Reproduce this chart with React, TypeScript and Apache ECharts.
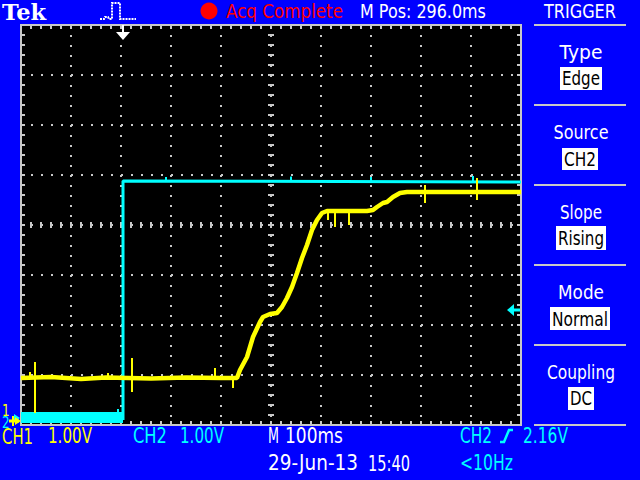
import React, { useEffect, useRef } from 'react';
import * as echarts from 'echarts';

// ---- data (time in ms from left screen edge, level in screen divisions from centre) ----
const screenMs = [0, 1000];
const screenDivs = [-4, 4];

const ch1Times = [0, 60, 120, 170, 260, 330, 400, 432, 438, 452, 464, 478, 484, 498, 512, 522, 532, 542, 552, 562, 572, 582, 592, 602, 612, 650, 692, 704, 712, 724, 732, 744, 758, 772, 850, 1000];
const ch1Levels = [-3.06, -3.04, -3.08, -3.05, -3.07, -3.05, -3.06, -3.06, -2.9, -2.64, -2.24, -1.94, -1.84, -1.78, -1.76, -1.64, -1.46, -1.24, -0.96, -0.66, -0.4, -0.1, 0.1, 0.24, 0.28, 0.28, 0.28, 0.3, 0.36, 0.44, 0.46, 0.56, 0.64, 0.66, 0.66, 0.66];

const ch1SpikeTimes = [18, 28, 174, 222, 388, 424, 614, 628, 656, 808, 912];
const ch1SpikeTops = [-2.94, -2.74, -2.96, -2.66, -2.86, -3.06, 0.28, 0.28, 0.28, 0.8, 0.94];
const ch1SpikeBottoms = [-3.04, -3.76, -3.06, -3.34, -3.06, -3.26, 0.1, -0.04, 0.0, 0.44, 0.5];

const ch2LowTimes = [0, 204];
const ch2LowLevels = [-3.85, -3.85];
const ch2Times = [204, 204, 1000];
const ch2Levels = [-3.9, 0.88, 0.86];

const ch2SpikeTimes = [194, 290, 540, 700, 904];
const ch2SpikeTops = [-3.68, 0.96, 0.97, 0.96, 0.98];
const ch2SpikeBottoms = [-3.8, 0.86, 0.86, 0.86, 0.84];

const triggerMs = 204;
const triggerLevelV = 2.16;
const ch1GroundDiv = -3.92;
const ch2GroundDiv = -3.86;

const triggerLabels = ['Type', 'Source', 'Slope', 'Mode', 'Coupling'];
const triggerValues = ['Edge', 'CH2', 'Rising', 'Normal', 'DC'];

// ---- styles ----
const BLUE = '#0000ff';
const GRAY = '#c8c8c8';
const YELLOW = '#ffff00';
const CYAN = '#00ffff';
const RED = '#ff0000';
const WHITE = '#ffffff';
const FONT = 'DejaVu Sans';

const measureCtx = typeof document !== 'undefined' ? document.createElement('canvas').getContext('2d') : null;

function fitText(text: string, x: number, cy: number, width: number, color: string, opts: any = {}) {
  const size = opts.size ?? 20;
  const family = opts.family ?? FONT;
  const weight = opts.weight ?? 'normal';
  const align = opts.align ?? 'left';
  const font = `${weight} ${size}px "${family}"`;
  let sx = 0.8;
  if (measureCtx) {
    measureCtx.font = font;
    const w = measureCtx.measureText(text).width;
    if (w > 0) sx = width / w;
  }
  return {
    type: 'text',
    x,
    y: cy,
    scaleX: sx,
    z: 10,
    style: { text, font, fill: color, textAlign: align, textVerticalAlign: 'middle', align, verticalAlign: 'middle' },
  };
}

function tickAxis(dim: 'x' | 'y', position: string, inside: boolean, len: number, offset = 0) {
  const isX = dim === 'x';
  return {
    type: 'value',
    gridIndex: 0,
    min: isX ? screenMs[0] : screenDivs[0],
    max: isX ? screenMs[1] : screenDivs[1],
    interval: isX ? 20 : 0.2,
    position,
    offset,
    axisLine: { show: false, onZero: false },
    axisTick: { show: true, inside, length: len, lineStyle: { color: GRAY, width: 2 } },
    axisLabel: { show: false },
    splitLine: { show: false },
  };
}

function gridAxis(dim: 'x' | 'y') {
  const isX = dim === 'x';
  return {
    type: 'value',
    gridIndex: 0,
    min: isX ? screenMs[0] : screenDivs[0],
    max: isX ? screenMs[1] : screenDivs[1],
    interval: isX ? 100 : 1,
    position: isX ? 'bottom' : 'left',
    axisLine: { show: false, onZero: false },
    axisTick: { show: false },
    axisLabel: { show: false },
    splitLine: { show: true, lineStyle: { color: GRAY, width: 2, type: [2, 8] } },
  };
}

function spikeSeries(times: number[], tops: number[], bottoms: number[], color: string) {
  return {
    type: 'custom',
    clip: true,
    z: 5,
    data: times.map((t, i) => [t, tops[i], bottoms[i]]),
    renderItem: (_p: any, api: any) => {
      const a = api.coord([api.value(0), api.value(1)]);
      const b = api.coord([api.value(0), api.value(2)]);
      return { type: 'line', shape: { x1: a[0], y1: a[1], x2: b[0], y2: b[1] }, style: { stroke: color, lineWidth: 2 } };
    },
  };
}

export default function App() {
  const ref = useRef<HTMLDivElement>(null);
  useEffect(() => {
    if (!ref.current) return;
    const chart = echarts.init(ref.current, null, { renderer: 'svg' });

    const graphics: any[] = [];
    // header
    graphics.push(fitText('Tek', 2, 12, 44, WHITE, { family: 'DejaVu Serif', weight: 'bold', size: 22 }));
    graphics.push({
      type: 'polyline', z: 10,
      shape: { points: [[100, 19], [104, 19], [105, 17], [108, 17], [109, 19], [112, 19], [112, 3], [120, 3], [120, 19], [136, 19]] },
      style: { stroke: WHITE, lineWidth: 2, fill: 'none', lineDash: [2, 1] },
    });
    graphics.push({ type: 'circle', z: 10, shape: { cx: 209, cy: 11, r: 8.5 }, style: { fill: RED } });
    graphics.push(fitText('Acq Complete', 226, 11, 117, RED));
    graphics.push(fitText('M Pos: 296.0ms', 360, 11, 126, WHITE));
    graphics.push(fitText('TRIGGER', 544, 11, 72, WHITE));

    // trigger panel
    const sepYs = [25, 105, 185, 265, 345, 425];
    sepYs.forEach((y) => graphics.push({ type: 'line', z: 10, shape: { x1: 534, y1: y, x2: 626, y2: y }, style: { stroke: GRAY, lineWidth: 2 } }));
    const labelWidths = [43, 55, 42, 46, 68];
    const boxes = [
      [560, 67, 42, 23],
      [562, 148, 36, 22],
      [556, 226, 50, 24],
      [550, 307, 60, 23],
      [568, 387, 26, 23],
    ];
    triggerLabels.forEach((lab, i) => {
      graphics.push(fitText(lab, 581, 52 + 80 * i, labelWidths[i], WHITE, { align: 'center' }));
      const [bx, by, bw, bh] = boxes[i];
      graphics.push({ type: 'rect', z: 10, shape: { x: bx, y: by, width: bw, height: bh }, style: { fill: WHITE } });
      graphics.push(fitText(triggerValues[i], bx + bw / 2, by + bh / 2, bw - 4, '#000000', { align: 'center' }));
    });

    // footer
    graphics.push(fitText('CH1', 2, 436, 31, YELLOW, { size: 21 }));
    graphics.push(fitText('1.00V', 48, 436, 44, YELLOW, { size: 21 }));
    graphics.push(fitText('CH2', 133, 436, 34, CYAN, { size: 21 }));
    graphics.push(fitText('1.00V', 180, 436, 44, CYAN, { size: 21 }));
    graphics.push(fitText('M', 268, 436, 11, WHITE, { size: 21 }));
    graphics.push(fitText('100ms', 285, 436, 58, WHITE, { size: 21 }));
    graphics.push(fitText('CH2', 460, 436, 32, CYAN, { size: 21 }));
    graphics.push({
      type: 'polyline', z: 10,
      shape: { points: [[500, 442], [504, 442], [509, 430], [513, 430]] },
      style: { stroke: CYAN, lineWidth: 2.5, fill: 'none' },
    });
    graphics.push(fitText('2.16V', 523, 436, 45, CYAN, { size: 21 }));
    graphics.push(fitText('29-Jun-13', 268, 463, 90, WHITE, { size: 21 }));
    graphics.push(fitText('15:40', 368, 463, 42, WHITE, { size: 21 }));
    graphics.push(fitText('<10Hz', 460, 463, 53, CYAN, { size: 21 }));

    const markerData = [
      [triggerMs, screenDivs[1], 0],
      [screenMs[1], ch2GroundDiv + triggerLevelV, 1],
      [screenMs[0], ch2GroundDiv, 2],
      [screenMs[0], ch1GroundDiv, 3],
    ];

    const smallText = (text: string, x: number, y: number, color: string) => ({
      type: 'text', x, y, scaleX: 0.8,
      style: { text, font: `15px "${FONT}"`, fill: color, textAlign: 'left', textVerticalAlign: 'middle', align: 'left', verticalAlign: 'middle' },
    });

    const option: any = {
      animation: false,
      backgroundColor: BLUE,
      graphic: { elements: graphics },
      grid: {
        left: 21, top: 25, width: 500, height: 400,
        show: true, backgroundColor: '#000000', borderColor: GRAY, borderWidth: 2,
        outerBoundsMode: 'none', containLabel: false,
      },
      xAxis: [
        tickAxis('x', 'bottom', true, 4),
        tickAxis('x', 'top', true, 4),
        gridAxis('x'),
        tickAxis('x', 'bottom', true, 3, -200),
        tickAxis('x', 'bottom', false, 3, -200),
      ],
      yAxis: [
        tickAxis('y', 'left', true, 4),
        tickAxis('y', 'right', true, 4),
        gridAxis('y'),
        tickAxis('y', 'left', true, 3, -250),
        tickAxis('y', 'left', false, 3, -250),
      ],
      series: [
        {
          type: 'line', z: 3, showSymbol: false, silent: true,
          data: ch2LowTimes.map((t, i) => [t, ch2LowLevels[i]]),
          lineStyle: { color: CYAN, width: 11, cap: 'butt' },
        },
        {
          type: 'line', z: 3, showSymbol: false, silent: true,
          data: ch2Times.map((t, i) => [t, ch2Levels[i]]),
          lineStyle: { color: CYAN, width: 3 },
        },
        spikeSeries(ch2SpikeTimes, ch2SpikeTops, ch2SpikeBottoms, CYAN),
        {
          type: 'line', z: 6, showSymbol: false, silent: true,
          data: ch1Times.map((t, i) => [t, ch1Levels[i]]),
          lineStyle: { color: YELLOW, width: 4.5 },
        },
        { ...spikeSeries(ch1SpikeTimes, ch1SpikeTops, ch1SpikeBottoms, YELLOW), z: 7 },
        {
          type: 'custom', z: 8, clip: false, silent: true,
          data: markerData,
          renderItem: (_p: any, api: any) => {
            const kind = api.value(2);
            const p = api.coord([api.value(0), api.value(1)]);
            const x = p[0];
            const y = p[1];
            if (kind === 0) {
              return {
                type: 'group',
                children: [
                  { type: 'line', shape: { x1: x, y1: y, x2: x, y2: y + 8 }, style: { stroke: WHITE, lineWidth: 2 } },
                  { type: 'polygon', shape: { points: [[x - 7, y + 7], [x + 7, y + 7], [x, y + 15]] }, style: { fill: WHITE } },
                ],
              };
            }
            if (kind === 1) {
              return {
                type: 'group',
                children: [
                  { type: 'line', shape: { x1: x - 9, y1: y, x2: x - 1, y2: y }, style: { stroke: CYAN, lineWidth: 3 } },
                  { type: 'polygon', shape: { points: [[x - 14, y], [x - 7, y - 6], [x - 7, y + 6]] }, style: { fill: CYAN } },
                ],
              };
            }
            if (kind === 2) {
              return {
                type: 'group',
                children: [
                  { type: 'polygon', shape: { points: [[x - 1, y], [x - 7, y - 4], [x - 7, y + 4]] }, style: { fill: CYAN } },
                  smallText('2', x - 19, y + 4, CYAN),
                ],
              };
            }
            return {
              type: 'group',
              children: [
                { type: 'line', shape: { x1: x - 12, y1: y, x2: x - 2, y2: y }, style: { stroke: YELLOW, lineWidth: 3 } },
                { type: 'line', shape: { x1: x - 8, y1: y - 5, x2: x - 8, y2: y + 5 }, style: { stroke: YELLOW, lineWidth: 2 } },
                { type: 'polygon', shape: { points: [[x, y], [x - 6, y - 4], [x - 6, y + 4]] }, style: { fill: YELLOW } },
                smallText('1', x - 19, y - 11, YELLOW),
              ],
            };
          },
        },
      ],
    };
    chart.setOption(option);
    return () => chart.dispose();
  }, []);
  return <div ref={ref} style={{ position: 'absolute', left: 0, top: 0, width: 640, height: 480 }} />;
}
